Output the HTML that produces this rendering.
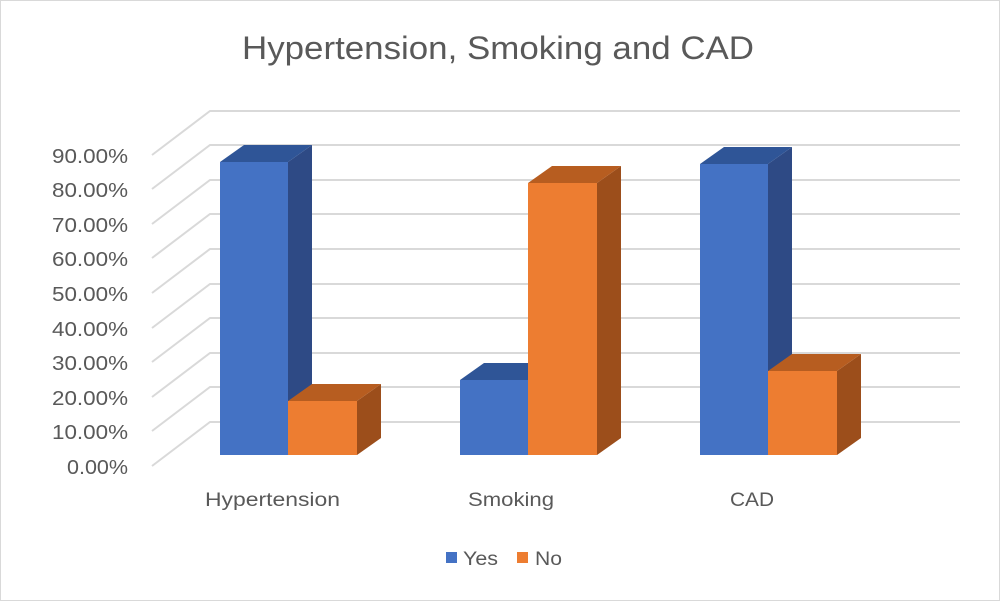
<!DOCTYPE html>
<html><head><style>
html,body{margin:0;padding:0;background:#fff;}
svg{display:block;}
text{font-family:"Liberation Sans",sans-serif;fill:#595959;}
</style></head><body>
<svg width="1000" height="601" xmlns="http://www.w3.org/2000/svg">
<rect x="0.5" y="0.5" width="999" height="600" fill="#fff" stroke="#d9d9d9"/>
<text x="242" y="59" font-size="32" textLength="512" lengthAdjust="spacingAndGlyphs">Hypertension, Smoking and CAD</text>
<g stroke="#d9d9d9" stroke-width="2" fill="none">
<path d="M152,466 L210,422 H960 M152,431 L210,387 H960 M152,397 L210,353 H960 M152,362 L210,318 H960 M152,328 L210,284 H960 M152,293 L210,249 H960 M152,258 L210,214 H960 M152,224 L210,180 H960 M152,189 L210,145 H960 M152,155 L210,111 H960"/>
</g>
<g font-size="20">
<text x="67" y="474" textLength="61" lengthAdjust="spacingAndGlyphs">0.00%</text>
<text x="52" y="439" textLength="76" lengthAdjust="spacingAndGlyphs">10.00%</text>
<text x="52" y="405" textLength="76" lengthAdjust="spacingAndGlyphs">20.00%</text>
<text x="52" y="370" textLength="76" lengthAdjust="spacingAndGlyphs">30.00%</text>
<text x="52" y="336" textLength="76" lengthAdjust="spacingAndGlyphs">40.00%</text>
<text x="52" y="301" textLength="76" lengthAdjust="spacingAndGlyphs">50.00%</text>
<text x="52" y="266" textLength="76" lengthAdjust="spacingAndGlyphs">60.00%</text>
<text x="52" y="232" textLength="76" lengthAdjust="spacingAndGlyphs">70.00%</text>
<text x="52" y="197" textLength="76" lengthAdjust="spacingAndGlyphs">80.00%</text>
<text x="52" y="163" textLength="76" lengthAdjust="spacingAndGlyphs">90.00%</text>
</g>
<polygon points="288,162 312,145 312,438 288,455" fill="#2e4a85"/>
<polygon points="220,162 244,145 312,145 288,162" fill="#2f5597"/>
<rect x="220" y="162" width="68" height="293" fill="#4472c4"/>
<polygon points="357,401 381,384 381,438 357,455" fill="#9c4e1b"/>
<polygon points="288,401 312,384 381,384 357,401" fill="#b75d20"/>
<rect x="288" y="401" width="69" height="54" fill="#ed7d31"/>
<polygon points="528,380 552,363 552,438 528,455" fill="#2e4a85"/>
<polygon points="460,380 484,363 552,363 528,380" fill="#2f5597"/>
<rect x="460" y="380" width="68" height="75" fill="#4472c4"/>
<polygon points="597,183 621,166 621,438 597,455" fill="#9c4e1b"/>
<polygon points="528,183 552,166 621,166 597,183" fill="#b75d20"/>
<rect x="528" y="183" width="69" height="272" fill="#ed7d31"/>
<polygon points="768,164 792,147 792,438 768,455" fill="#2e4a85"/>
<polygon points="700,164 724,147 792,147 768,164" fill="#2f5597"/>
<rect x="700" y="164" width="68" height="291" fill="#4472c4"/>
<polygon points="837,371 861,354 861,438 837,455" fill="#9c4e1b"/>
<polygon points="768,371 792,354 861,354 837,371" fill="#b75d20"/>
<rect x="768" y="371" width="69" height="84" fill="#ed7d31"/>
<g font-size="19">
<text x="205" y="506" textLength="135" lengthAdjust="spacingAndGlyphs">Hypertension</text>
<text x="468" y="506" textLength="86" lengthAdjust="spacingAndGlyphs">Smoking</text>
<text x="730" y="506" textLength="44" lengthAdjust="spacingAndGlyphs">CAD</text>
</g>
<rect x="446" y="552" width="11" height="11" fill="#4472c4"/>
<text x="463" y="565" font-size="19" textLength="35" lengthAdjust="spacingAndGlyphs">Yes</text>
<rect x="517" y="552" width="11" height="11" fill="#ed7d31"/>
<text x="535" y="565" font-size="19" textLength="27" lengthAdjust="spacingAndGlyphs">No</text>
</svg>
</body></html>
